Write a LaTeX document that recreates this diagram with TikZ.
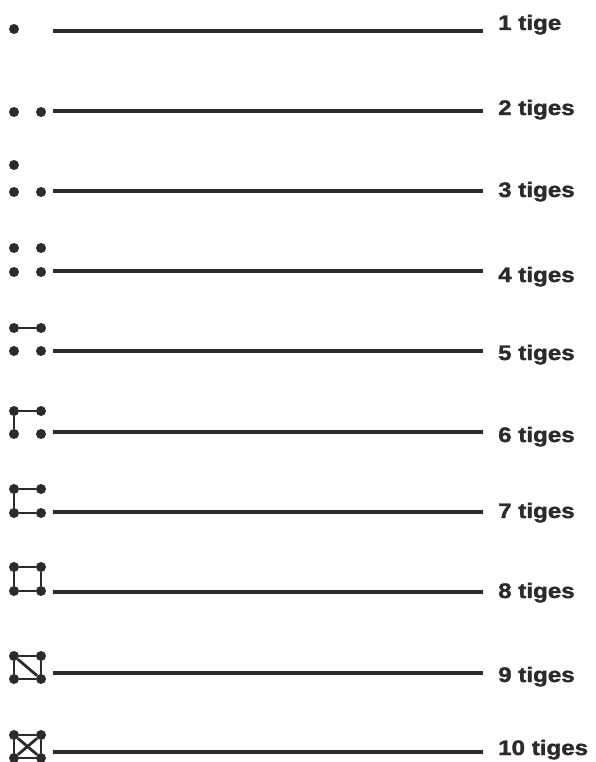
\documentclass[tikz,border=0pt]{standalone}
\usepackage{fontspec}
\setmainfont{Liberation Sans}
\usepackage{xcolor}
\usepackage{tikz}
\usetikzlibrary{positioning}
\definecolor{ink}{HTML}{2B2B2B}
\newfontfamily\tagfont[FakeStretch=1.15,BoldFeatures={FakeBold=1.6}]{Liberation Sans}

\begin{document}
\begin{tikzpicture}[
  x=1pt,y=-1pt,
  dot/.style={circle,fill=ink,inner sep=0pt,minimum size=10pt},
  stem/.style={line width=2.8pt,draw=ink},
  rule/.style={line width=4.2pt,draw=ink},
  tag/.style={anchor=base west,inner sep=0pt,text=ink,font=\tagfont\fontsize{21}{24}\selectfont\bfseries}
]
\useasboundingbox (0,0) rectangle (596,762);
% row 1
\node[dot] (a1) at (14,29) {};
\coordinate (s1) at (53,31); \coordinate (e1) at (483,31);
\draw[rule] (s1) -- (e1);
\node[tag] (t1) at (498,30) {1 tige};
% row 2
\node[dot] (c2) at (14,112) {};
\node[dot] (d2) at (41,112) {};
\coordinate (s2) at (53,111); \coordinate (e2) at (483,111);
\draw[rule] (s2) -- (e2);
\node[tag] (t2) at (498,115) {2 tiges};
% row 3
\node[dot] (a3) at (14,165) {};
\node[dot] (c3) at (14,192) {};
\node[dot] (d3) at (41,192) {};
\coordinate (s3) at (53,191); \coordinate (e3) at (483,191);
\draw[rule] (s3) -- (e3);
\node[tag] (t3) at (498,197) {3 tiges};
% row 4
\node[dot] (a4) at (14,248) {};
\node[dot] (b4) at (41,248) {};
\node[dot] (c4) at (14,272) {};
\node[dot] (d4) at (41,272) {};
\coordinate (s4) at (53,271); \coordinate (e4) at (483,271);
\draw[rule] (s4) -- (e4);
\node[tag] (t4) at (498,282) {4 tiges};
% row 5
\node[dot] (a5) at (14,328) {};
\node[dot] (b5) at (41,328) {};
\node[dot] (c5) at (14,351) {};
\node[dot] (d5) at (41,351) {};
\draw[stem] (a5) -- (b5);
\coordinate (s5) at (53,351); \coordinate (e5) at (483,351);
\draw[rule] (s5) -- (e5);
\node[tag] (t5) at (498,360) {5 tiges};
% row 6
\node[dot] (a6) at (14,411) {};
\node[dot] (b6) at (41,411) {};
\node[dot] (c6) at (14,434) {};
\node[dot] (d6) at (41,434) {};
\draw[stem] (a6) -- (b6);
\draw[stem] (a6) -- (c6);
\coordinate (s6) at (53,432); \coordinate (e6) at (483,432);
\draw[rule] (s6) -- (e6);
\node[tag] (t6) at (498,442) {6 tiges};
% row 7
\node[dot] (a7) at (14,489) {};
\node[dot] (b7) at (41,489) {};
\node[dot] (c7) at (14,513) {};
\node[dot] (d7) at (41,513) {};
\draw[stem] (a7) -- (b7);
\draw[stem] (a7) -- (c7);
\draw[stem] (c7) -- (d7);
\coordinate (s7) at (53,512); \coordinate (e7) at (483,512);
\draw[rule] (s7) -- (e7);
\node[tag] (t7) at (498,518) {7 tiges};
% row 8
\node[dot] (a8) at (14,567) {};
\node[dot] (b8) at (41,567) {};
\node[dot] (c8) at (14,591) {};
\node[dot] (d8) at (41,591) {};
\draw[stem] (a8) -- (b8);
\draw[stem] (a8) -- (c8);
\draw[stem] (c8) -- (d8);
\draw[stem] (b8) -- (d8);
\coordinate (s8) at (53,592); \coordinate (e8) at (483,592);
\draw[rule] (s8) -- (e8);
\node[tag] (t8) at (498,598) {8 tiges};
% row 9
\node[dot] (a9) at (14,656) {};
\node[dot] (b9) at (41,656) {};
\node[dot] (c9) at (14,679) {};
\node[dot] (d9) at (41,679) {};
\draw[stem] (a9) -- (b9);
\draw[stem] (a9) -- (c9);
\draw[stem] (c9) -- (d9);
\draw[stem] (b9) -- (d9);
\draw[stem] (a9) -- (d9);
\coordinate (s9) at (53,673); \coordinate (e9) at (483,673);
\draw[rule] (s9) -- (e9);
\node[tag] (t9) at (498,682) {9 tiges};
% row 10
\node[dot] (a10) at (14,735) {};
\node[dot] (b10) at (41,735) {};
\node[dot] (c10) at (14,758) {};
\node[dot] (d10) at (41,758) {};
\draw[stem] (a10) -- (b10);
\draw[stem] (a10) -- (c10);
\draw[stem] (c10) -- (d10);
\draw[stem] (b10) -- (d10);
\draw[stem] (a10) -- (d10);
\draw[stem] (b10) -- (c10);
\coordinate (s10) at (53,752); \coordinate (e10) at (483,752);
\draw[rule] (s10) -- (e10);
\node[tag] (t10) at (498,755) {10 tiges};
\end{tikzpicture}
\end{document}
